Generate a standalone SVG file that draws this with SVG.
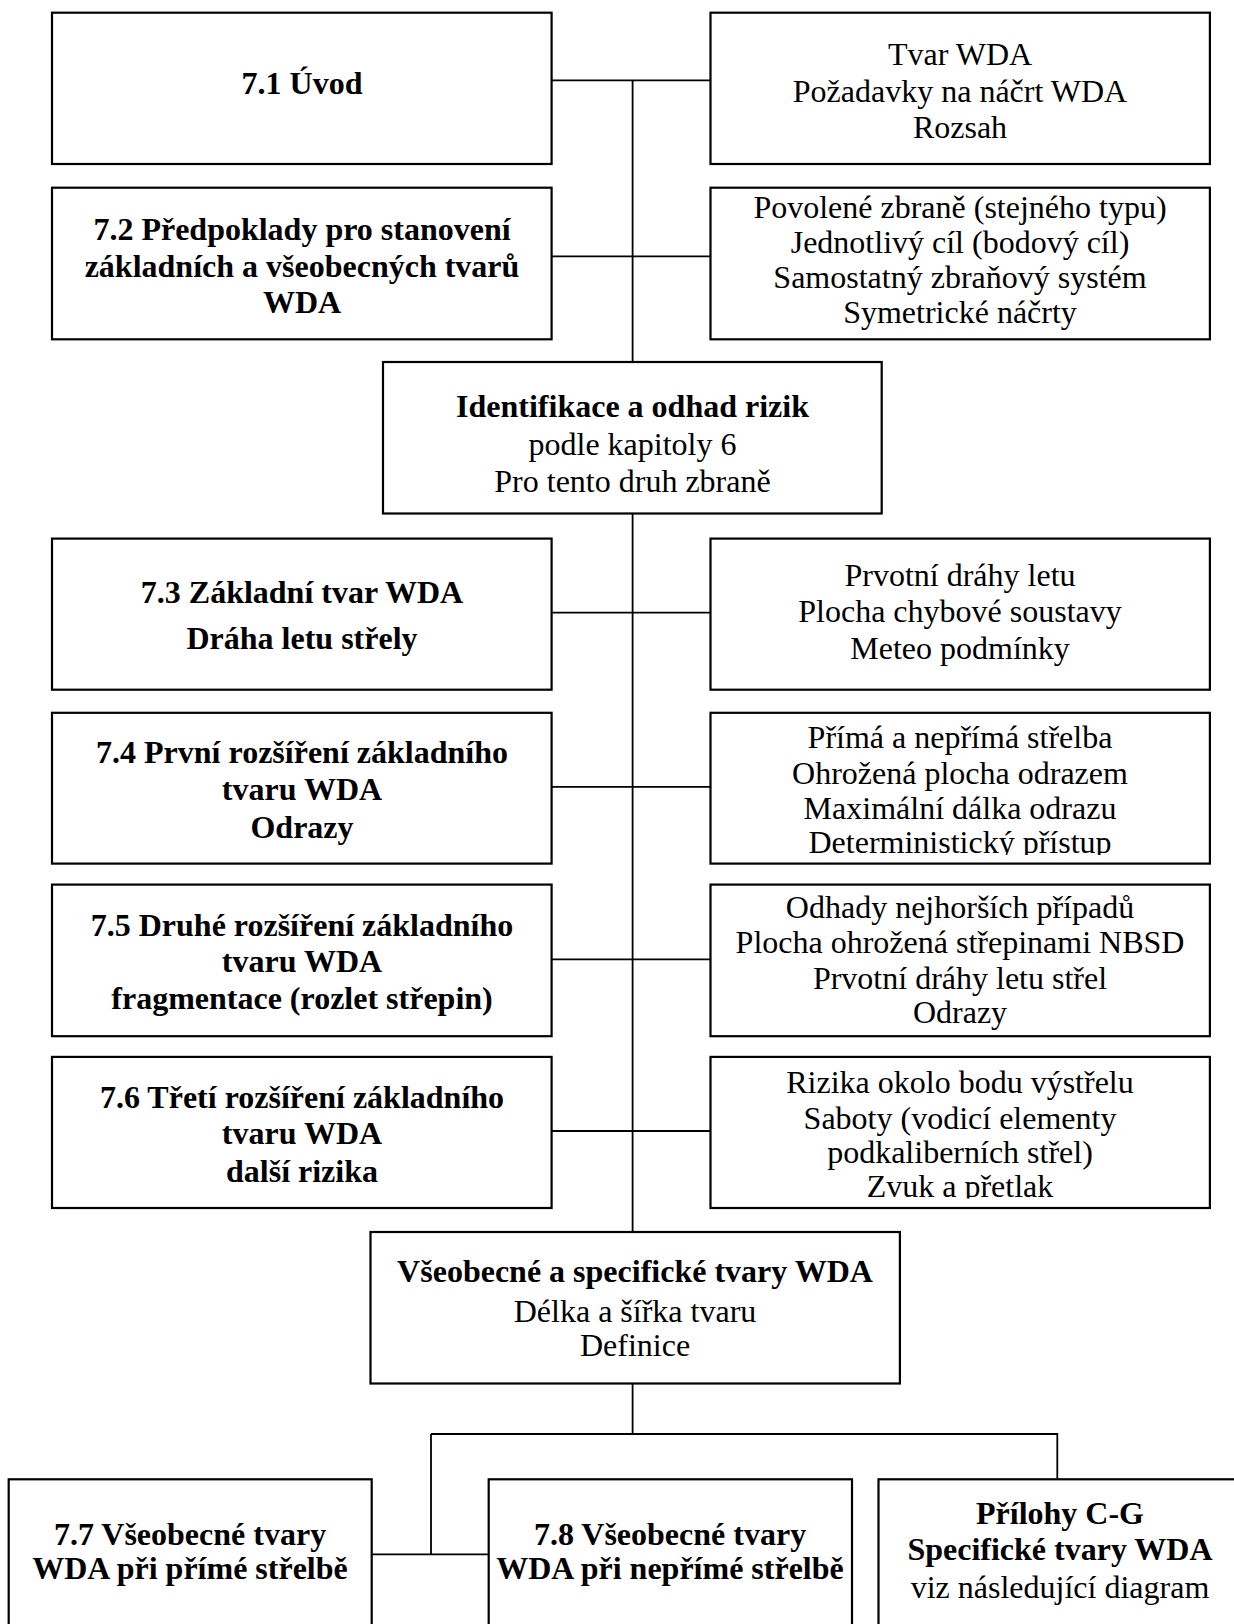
<svg xmlns="http://www.w3.org/2000/svg" width="1234" height="1624" viewBox="0 0 1234 1624">
<style>
.box{fill:#fff;stroke:#000;stroke-width:2.2}
.con{fill:none;stroke:#000;stroke-width:1.8}
text{font-family:"Liberation Serif","Times New Roman",serif;font-size:32px;fill:#000;text-anchor:middle}
.b{font-weight:bold}
</style>
<defs>
<clipPath id="c74"><rect x="710" y="700" width="500" height="155"/></clipPath>
<clipPath id="c76"><rect x="710" y="1050" width="500" height="148.6"/></clipPath>
</defs>
<rect width="1234" height="1624" fill="#fff"/>
<g id="connectors">
<path class="con" d="M632.6 80.3V362M632.6 513.5V1232M632.6 1383.5V1434"/>
<path class="con" d="M552 80.3H710M552 256.3H710M552 612.6H710M552 786.8H710M552 959.4H710M552 1131H710"/>
<path class="con" d="M431 1434H1057.3V1479.3M431 1434V1554.3M371.7 1554.3H488.7"/>
</g>
<g id="n71"><rect class="box" x="52" y="12.7" width="499.6" height="151.3"/><text class="b" x="302" y="94.3">7.1 Úvod</text></g>
<g id="r71"><rect class="box" x="710.5" y="12.7" width="499.4" height="151.3"/><text x="960" y="65">Tvar WDA</text><text x="960" y="101.7">Požadavky na náčrt WDA</text><text x="960" y="138.3">Rozsah</text></g>
<g id="n72"><rect class="box" x="52" y="187.7" width="499.6" height="151.6"/><text class="b" x="302" y="240">7.2 Předpoklady pro stanovení</text><text class="b" x="302" y="276.5">základních a všeobecných tvarů</text><text class="b" x="302" y="313.3">WDA</text></g>
<g id="r72"><rect class="box" x="710.5" y="187.7" width="499.4" height="151.6"/><text x="960" y="218.3">Povolené zbraně (stejného typu)</text><text x="960" y="253.3">Jednotlivý cíl (bodový cíl)</text><text x="960" y="288.3">Samostatný zbraňový systém</text><text x="960" y="323.3">Symetrické náčrty</text></g>
<g id="ident"><rect class="box" x="383" y="362" width="498.7" height="151.5"/><text class="b" x="632.5" y="417.3">Identifikace a odhad rizik</text><text x="632.5" y="455">podle kapitoly 6</text><text x="632.5" y="491.7">Pro tento druh zbraně</text></g>
<g id="n73"><rect class="box" x="52" y="538.6" width="499.6" height="151.1"/><text class="b" x="302" y="602.6">7.3 Základní tvar WDA</text><text class="b" x="302" y="648.8">Dráha letu střely</text></g>
<g id="r73"><rect class="box" x="710.5" y="538.6" width="499.4" height="151.1"/><text x="960" y="586">Prvotní dráhy letu</text><text x="960" y="622.2">Plocha chybové soustavy</text><text x="960" y="659">Meteo podmínky</text></g>
<g id="n74"><rect class="box" x="52" y="712.8" width="499.6" height="150.8"/><text class="b" x="302" y="763.4">7.4 První rozšíření základního</text><text class="b" x="302" y="799.6">tvaru WDA</text><text class="b" x="302" y="837.5">Odrazy</text></g>
<g id="r74"><rect class="box" x="710.5" y="712.8" width="499.4" height="150.8"/><g clip-path="url(#c74)"><text x="960" y="748">Přímá a nepřímá střelba</text><text x="960" y="784">Ohrožená plocha odrazem</text><text x="960" y="818.5">Maximální dálka odrazu</text><text x="960" y="853">Deterministický přístup</text></g></g>
<g id="n75"><rect class="box" x="52" y="884.6" width="499.6" height="151.6"/><text class="b" x="302" y="935.6">7.5 Druhé rozšíření základního</text><text class="b" x="302" y="971.8">tvaru WDA</text><text class="b" x="302" y="1009">fragmentace (rozlet střepin)</text></g>
<g id="r75"><rect class="box" x="710.5" y="884.6" width="499.4" height="151.6"/><text x="960" y="917.7">Odhady nejhorších případů</text><text x="960" y="952.8">Plocha ohrožená střepinami NBSD</text><text x="960" y="989">Prvotní dráhy letu střel</text><text x="960" y="1023.4">Odrazy</text></g>
<g id="n76"><rect class="box" x="52" y="1056.9" width="499.6" height="151.1"/><text class="b" x="302" y="1108.4">7.6 Třetí rozšíření základního</text><text class="b" x="302" y="1144.4">tvaru WDA</text><text class="b" x="302" y="1181.5">další rizika</text></g>
<g id="r76"><rect class="box" x="710.5" y="1056.9" width="499.4" height="151.1"/><g clip-path="url(#c76)"><text x="960" y="1092.5">Rizika okolo bodu výstřelu</text><text x="960" y="1128.5">Saboty (vodicí elementy</text><text x="960" y="1163.3">podkaliberních střel)</text><text x="960" y="1196.7">Zvuk a přetlak</text></g></g>
<g id="general"><rect class="box" x="370.5" y="1232" width="529.4" height="151.5"/><text class="b" x="635" y="1281.9">Všeobecné a specifické tvary WDA</text><text x="635" y="1321.7">Délka a šířka tvaru</text><text x="635" y="1355.8">Definice</text></g>
<g id="n77"><rect class="box" x="8.7" y="1479.3" width="363" height="160"/><text class="b" x="190" y="1545">7.7 Všeobecné tvary</text><text class="b" x="190" y="1579.3">WDA při přímé střelbě</text></g>
<g id="n78"><rect class="box" x="488.7" y="1479.3" width="363.3" height="160"/><text class="b" x="670" y="1545">7.8 Všeobecné tvary</text><text class="b" x="670" y="1579.3">WDA při nepřímé střelbě</text></g>
<g id="annex"><rect class="box" x="878.5" y="1479.3" width="363" height="160"/><text class="b" x="1060" y="1524.3">Přílohy C-G</text><text class="b" x="1060" y="1560.3">Specifické tvary WDA</text><text x="1060" y="1598.2">viz následující diagram</text></g>
</svg>
